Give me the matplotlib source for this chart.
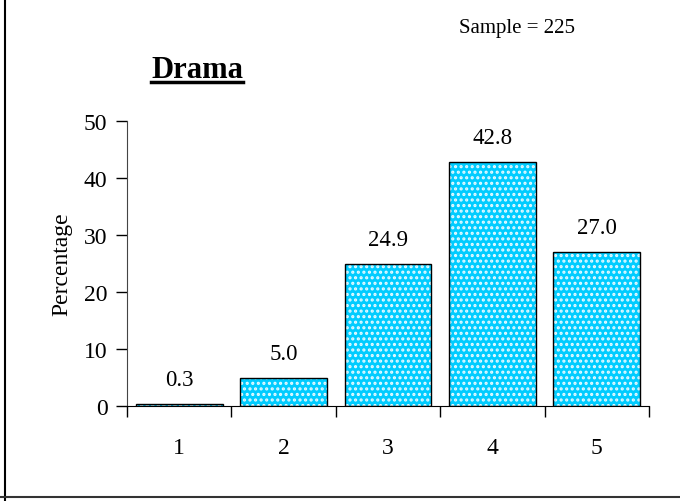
import matplotlib
matplotlib.use("Agg")
import matplotlib.pyplot as plt
from matplotlib.lines import Line2D

categories = ["1", "2", "3", "4", "5"]
values = [0.3, 5.0, 24.9, 42.8, 27.0]
value_labels = ["0.3", "5.0", "24.9", "42.8", "27.0"]
yticks = [0, 10, 20, 30, 40, 50]

plt.rcParams['font.family'] = ['Liberation Serif', 'DejaVu Serif']
plt.rcParams['hatch.linewidth'] = 1.5

fig = plt.figure(figsize=(6.8, 5.02), dpi=100)
ax = fig.add_axes([127/680, 1-407/502, (649-127)/680, (407-122)/502])

x = list(range(1, len(categories)+1))
ax.bar(x, values, width=0.83, color='#00CCFF', edgecolor='#E6FAFF', hatch='...', linewidth=0, zorder=2)
ax.bar(x, values, width=0.83, fill=False, edgecolor='black', linewidth=1.0, zorder=3)

for xi, v, lab in zip(x, values, value_labels):
    ax.annotate(lab, (xi, v), xytext=(0, 10), textcoords='offset points',
                ha='center', va='bottom', fontsize=16.5)

ax.set_xlim(0.5, 5.5)
ax.set_ylim(0, 50)
ax.set_yticks(yticks)
ax.set_yticklabels([str(t) for t in yticks], fontsize=17)
ax.set_xticks([0.5 + i for i in range(6)])
ax.set_xticklabels([])
ax.set_xticks(x, minor=True)
ax.set_xticklabels(categories, minor=True, fontsize=17)
ax.tick_params(axis='x', which='major', direction='out', length=8, width=1)
ax.tick_params(axis='x', which='minor', length=0, pad=22)
ax.tick_params(axis='y', direction='out', length=8, width=1, pad=6)
for s in ['top', 'right']:
    ax.spines[s].set_visible(False)
ax.spines['left'].set_color('#444444')
ax.spines['bottom'].set_color('black')
ax.set_ylabel("Percentage", fontsize=17, labelpad=8)

# Title with underline
t = fig.text(197/680, 1-70/502, "Drama", fontsize=22, fontweight='bold', ha='center', va='center')
fig.canvas.draw()
bb = t.get_window_extent()
fw, fh = fig.bbox.width, fig.bbox.height
uy = 1 - 83/502
fig.add_artist(Line2D([bb.x0/fw, bb.x1/fw], [uy, uy], color='black', linewidth=2.5))

fig.text(517/680, 1-28/502, "Sample = 225", fontsize=15, ha='center', va='center')

# Frame lines (left and bottom)
fig.add_artist(Line2D([4.5/680, 4.5/680], [0, 1], color='black', linewidth=1.5))
fig.add_artist(Line2D([0, 1], [1-498/502, 1-498/502], color='#333333', linewidth=1.5))

fig.savefig("out.png", dpi=100)
